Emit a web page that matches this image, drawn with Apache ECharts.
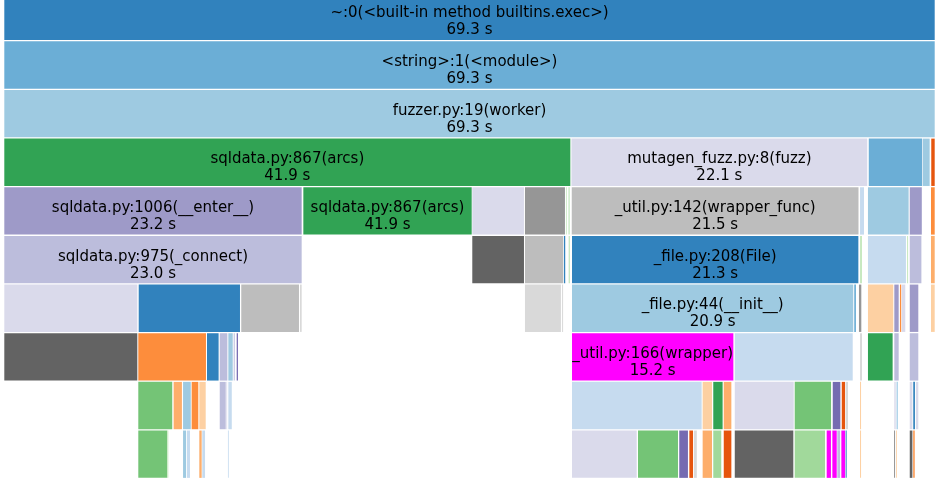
<!DOCTYPE html>
<html>
<head>
<meta charset="utf-8">
<script src="https://cdn.jsdelivr.net/npm/echarts@6/dist/echarts.min.js"></script>
<style>
html,body{margin:0;padding:0;background:#fff;}
#chart{width:936px;height:480px;}
</style>
</head>
<body>
<div id="chart"></div>
<script>
// Total run time (seconds)
const totalTime = 69.3;

// Each level: [start (s), duration (s)]
const level0 = [[0, 69.3]];
const level1 = [[0, 69.3]];
const level2 = [[0, 69.3]];
const level3 = [[0, 42.19], [42.20, 22.08], [64.32, 4.04], [68.33, 0.595], [68.97, 0.33]];
const level4 = [[0, 22.20], [22.25, 12.60], [34.82, 3.92], [38.74, 3.05], [41.79, 0.11], [41.99, 0.11],
  [42.22, 21.41], [63.67, 0.37], [64.26, 3.10], [67.37, 0.97], [68.95, 0.35]];
const level5 = [[0, 22.20], [34.82, 3.92], [38.74, 2.92], [41.64, 0.17], [41.99, 0.17],
  [42.24, 21.38], [63.67, 0.22], [64.26, 2.90], [67.17, 0.15], [67.37, 0.94], [68.95, 0.35]];
const level6 = [[0, 9.97], [10.00, 7.61], [17.63, 4.37], [22.00, 0.20], [38.74, 2.75], [41.50, 0.15],
  [42.24, 21.00], [63.24, 0.20], [63.59, 0.25], [64.26, 1.96], [66.22, 0.40], [66.64, 0.17],
  [66.77, 0.34], [67.37, 0.71], [68.95, 0.35]];
const level7 = [[0, 9.97], [9.97, 5.11], [15.08, 0.94], [16.03, 0.64], [16.67, 0.40], [17.07, 0.15],
  [17.29, 0.17], [42.24, 12.08], [54.35, 8.85], [63.67, 0.22], [64.26, 1.91], [66.22, 0.40], [67.37, 0.71]];
const level8 = [[9.97, 2.60], [12.60, 0.69], [13.30, 0.65], [13.94, 0.57], [14.51, 0.55], [16.03, 0.52],
  [16.52, 0.13], [16.67, 0.33], [42.24, 9.72], [51.96, 0.77], [52.75, 0.77], [53.53, 0.64],
  [54.35, 4.46], [58.81, 2.78], [61.64, 0.64], [62.31, 0.32], [62.60, 0.25], [63.67, 0.15],
  [66.22, 0.18], [66.40, 0.10], [67.37, 0.27], [67.63, 0.20], [67.83, 0.25]];
const level9 = [[9.97, 2.23], [12.13, 0.15], [13.30, 0.30], [13.59, 0.30], [14.51, 0.25], [14.73, 0.28],
  [16.64, 0.10], [42.24, 4.89], [47.15, 3.05], [50.22, 0.72], [50.97, 0.35], [51.32, 0.28],
  [51.96, 0.77], [52.75, 0.67], [53.53, 0.64], [54.35, 4.43], [58.81, 2.33], [61.19, 0.39],
  [61.61, 0.40], [61.98, 0.28], [62.28, 0.35], [62.60, 0.15], [63.67, 0.15], [66.20, 0.15],
  [66.35, 0.13], [67.37, 0.27], [67.63, 0.18]];

// Labelled frames: [level, index in level, function, cumulative time text]
const labels = [
  [0, 0, '~:0(<built-in method builtins.exec>)', '69.3 s'],
  [1, 0, '<string>:1(<module>)', '69.3 s'],
  [2, 0, 'fuzzer.py:19(worker)', '69.3 s'],
  [3, 0, 'sqldata.py:867(arcs)', '41.9 s'],
  [3, 1, 'mutagen_fuzz.py:8(fuzz)', '22.1 s'],
  [4, 0, 'sqldata.py:1006(__enter__)', '23.2 s'],
  [4, 1, 'sqldata.py:867(arcs)', '41.9 s'],
  [4, 6, '_util.py:142(wrapper_func)', '21.5 s'],
  [5, 0, 'sqldata.py:975(_connect)', '23.0 s'],
  [5, 5, '_file.py:208(File)', '21.3 s'],
  [6, 6, '_file.py:44(__init__)', '20.9 s'],
  [7, 7, '_util.py:166(wrapper)', '15.2 s']
];

// Styles (fill colour per frame, level by level)
const levelColors = [
  ['#3182bd'],
  ['#6baed6'],
  ['#9ecae1'],
  ['#31a354', '#dadaeb', '#6baed6', '#9ecae1', '#e6550d'],
  ['#9e9ac8', '#31a354', '#dadaeb', '#969696', '#c7e9c0', '#a1d99b', '#bdbdbd', '#c6dbef', '#9ecae1', '#9e9ac8', '#fd8d3c'],
  ['#bcbddc', '#636363', '#bdbdbd', '#3182bd', '#c7e9c0', '#3182bd', '#c7e9c0', '#c6dbef', '#c7e9c0', '#bcbddc', '#fdae6b'],
  ['#dadaeb', '#3182bd', '#bdbdbd', '#d9d9d9', '#d9d9d9', '#d9d9d9', '#9ecae1', '#6baed6', '#969696', '#fdd0a2', '#9e9ac8', '#fd8d3c', '#dadaeb', '#9e9ac8', '#fdd0a2'],
  ['#636363', '#fd8d3c', '#3182bd', '#bcbddc', '#9ecae1', '#bcbddc', '#756bb1', '#ff00ff', '#c6dbef', '#d9d9d9', '#31a354', '#bcbddc', '#bcbddc'],
  ['#74c476', '#fdae6b', '#9ecae1', '#fd8d3c', '#fdd0a2', '#bcbddc', '#dadaeb', '#c6dbef', '#c6dbef', '#fdd0a2', '#31a354', '#fdae6b', '#dadaeb', '#74c476', '#756bb1', '#e6550d', '#d9d9d9', '#fdd0a2', '#dadaeb', '#6baed6', '#dadaeb', '#3182bd', '#dadaeb'],
  ['#74c476', '#c7e9c0', '#9ecae1', '#c6dbef', '#fdae6b', '#c6dbef', '#c6dbef', '#dadaeb', '#74c476', '#756bb1', '#e6550d', '#d9d9d9', '#fdae6b', '#a1d99b', '#e6550d', '#636363', '#a1d99b', '#ff00ff', '#ff00ff', '#bcbddc', '#ff00ff', '#3182bd', '#fdd0a2', '#969696', '#fdd0a2', '#636363', '#fd8d3c']
];

const levels = [level0, level1, level2, level3, level4, level5, level6, level7, level8, level9];

const data = [];
levels.forEach(function (lv, d) {
  lv.forEach(function (f, i) {
    const lab = labels.find(function (l) { return l[0] === d && l[1] === i; });
    data.push({
      value: [f[0], d, f[1]],
      name: lab ? lab[2] : '',
      time: lab ? lab[3] : '',
      color: levelColors[d][i]
    });
  });
});

const chart = echarts.init(document.getElementById('chart'), null, { renderer: 'canvas' });

chart.setOption({
  animation: false,
  backgroundColor: '#ffffff',
  grid: { left: 4.3, top: 0, width: 931.4, height: 480, containLabel: false },
  xAxis: { type: 'value', min: 0, max: totalTime, show: false },
  // the top level is partly scrolled above the view, as in the reference
  yAxis: { type: 'value', min: 0.151, max: 10.017, inverse: true, show: false },
  series: [{
    type: 'custom',
    clip: false,
    data: data.map(function (d) { return d.value; }),
    renderItem: function (params, api) {
      const item = data[params.dataIndex];
      const s = api.value(0), dep = api.value(1), du = api.value(2);
      const p0 = api.coord([s, dep]);
      const p1 = api.coord([s + du, dep + 1]);
      const w = Math.max(p1[0] - p0[0] - 1, 0.8);
      const h = p1[1] - p0[1] - 1.3;
      const children = [{
        type: 'rect',
        shape: { x: p0[0], y: p0[1], width: w, height: h },
        style: { fill: item.color }
      }];
      if (item.name) {
        children.push({
          type: 'text',
          style: {
            x: p0[0] + w / 2,
            y: p0[1] + 29.3,
            text: item.name + '\n' + item.time,
            fill: '#000',
            font: '15px "DejaVu Sans"',
            lineHeight: 17,
            align: 'center',
            verticalAlign: 'middle'
          }
        });
      }
      return { type: 'group', children: children };
    }
  }]
});
</script>
</body>
</html>
